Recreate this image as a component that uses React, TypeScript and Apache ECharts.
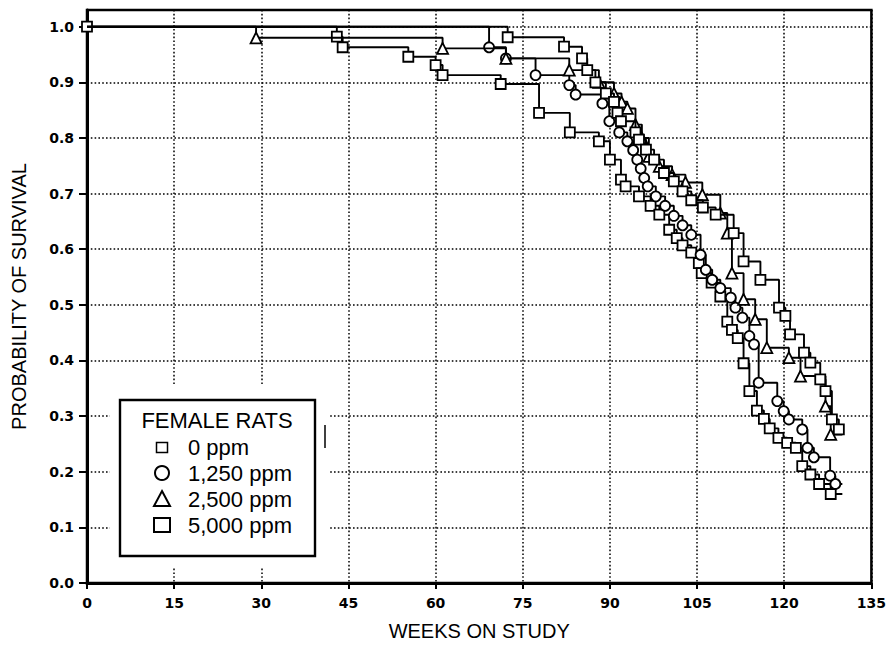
import React, { useEffect, useRef } from "react";
import * as echarts from "echarts";

// ---- data ----
const xTickValues = [0, 15, 30, 45, 60, 75, 90, 105, 120, 135];
const yTickValues = [0, 0.1, 0.2, 0.3, 0.4, 0.5, 0.6, 0.7, 0.8, 0.9, 1.0];
const groupNames = ["0 ppm", "1,250 ppm", "2,500 ppm", "5,000 ppm"];
const legendTitle = "FEMALE RATS";
const endWeek = 130;

const weeks0 = [43, 44, 55.3, 60, 61.2, 71.2, 77.8, 83.1, 88.1, 90, 91.9, 92.7, 95, 97, 98.5, 100.2, 101.5, 102.5, 104, 105.3, 105.8, 107.5, 109, 110.2, 111, 112, 113, 114, 115.3, 116.5, 117.5, 119, 120.5, 122, 123.1, 124.5, 126, 128];
const surv0 = [0.982, 0.963, 0.946, 0.931, 0.913, 0.897, 0.845, 0.81, 0.794, 0.761, 0.725, 0.713, 0.695, 0.678, 0.662, 0.635, 0.62, 0.607, 0.594, 0.575, 0.557, 0.54, 0.515, 0.47, 0.455, 0.44, 0.395, 0.345, 0.31, 0.295, 0.278, 0.261, 0.252, 0.243, 0.21, 0.195, 0.178, 0.16];

const weeks1 = [69.2, 72.1, 77.2, 83, 84.1, 88.7, 89.9, 91.6, 93, 94, 94.7, 95.3, 95.9, 96.5, 97.9, 99.5, 101, 102.5, 104, 105.6, 106.5, 107.6, 109, 110.8, 111.6, 112.8, 114, 114.8, 115.6, 118.8, 119.9, 120.8, 123.1, 124, 125.1, 127.9, 128.8];
const surv1 = [0.963, 0.943, 0.913, 0.895, 0.878, 0.862, 0.83, 0.81, 0.794, 0.778, 0.761, 0.745, 0.728, 0.713, 0.695, 0.678, 0.66, 0.643, 0.626, 0.59, 0.563, 0.545, 0.53, 0.513, 0.495, 0.477, 0.444, 0.429, 0.36, 0.327, 0.309, 0.294, 0.276, 0.243, 0.226, 0.193, 0.178];

const weeks2 = [29.1, 61.2, 72.1, 83, 88.1, 90.7, 92, 93, 94.4, 95.5, 96.7, 98.5, 100.7, 103, 105.9, 109, 110.2, 111, 113, 115, 117, 120.8, 122.8, 127.1, 128];
const surv2 = [0.98, 0.961, 0.943, 0.922, 0.9, 0.88, 0.865, 0.853, 0.824, 0.8, 0.767, 0.749, 0.734, 0.72, 0.698, 0.665, 0.629, 0.557, 0.51, 0.474, 0.423, 0.405, 0.372, 0.318, 0.267];

const weeks3 = [72.4, 82.1, 85.2, 86.1, 87.5, 89.3, 90.7, 91.3, 91.9, 94.4, 95, 96.2, 97.6, 99.3, 101, 102.5, 104, 106, 108.2, 111.3, 113, 115.9, 119.1, 120.2, 121, 123.4, 124.5, 126.2, 127.1, 128.2, 129.4];
const surv3 = [0.981, 0.964, 0.943, 0.922, 0.9, 0.88, 0.865, 0.845, 0.83, 0.81, 0.797, 0.779, 0.761, 0.737, 0.722, 0.704, 0.688, 0.675, 0.662, 0.629, 0.578, 0.545, 0.495, 0.48, 0.447, 0.414, 0.396, 0.366, 0.345, 0.294, 0.276];

const groupWeeks = [weeks0, weeks1, weeks2, weeks3];
const groupSurv = [surv0, surv1, surv2, surv3];
const groupSymbols = ["rect", "circle", "triangle", "rect"];

const AXIS_FONT = "'DejaVu Sans', sans-serif";
const TEXT_FONT = "'Liberation Sans', Arial, sans-serif";

function buildData(weeks: number[], surv: number[], startSymbol: string) {
  const d: any[] = [{ value: [0, 1], symbol: startSymbol }];
  weeks.forEach((w, i) => d.push({ value: [w, surv[i]] }));
  d.push({ value: [endWeek, surv[surv.length - 1]], symbol: "none" });
  return d;
}

export default function App() {
  const ref = useRef<HTMLDivElement>(null);
  useEffect(() => {
    const chart = echarts.init(ref.current!, null, { renderer: "svg" });
    const series = groupNames.map((name, gi) => ({
      name,
      type: "line",
      step: "end",
      data: buildData(groupWeeks[gi], groupSurv[gi], gi === 0 ? "rect" : "none"),
      symbol: groupSymbols[gi],
      symbolSize: gi === 2 ? 11 : 10,
      showAllSymbol: true,
      clip: false,
      lineStyle: { color: "#000", width: 1.9 },
      itemStyle: { color: "#fff", borderColor: "#000", borderWidth: 1.8 },
      z: 3 + gi,
    }));

    const legendRows = [447.5, 473, 499, 525];
    const legendX = 162;
    const graphic: any[] = [
      { type: "rect", shape: { x: 110, y: 385, width: 218, height: 182 }, style: { fill: "#fff" }, z: 20 },
      { type: "rect", shape: { x: 120, y: 400, width: 195, height: 156 }, style: { fill: "#fff", stroke: "#000", lineWidth: 2.4 }, z: 21 },
      { type: "text", x: 217, y: 420, z: 22, style: { text: legendTitle, font: `22px ${TEXT_FONT}`, fill: "#000", align: "center", verticalAlign: "middle" } },
      { type: "rect", shape: { x: legendX - 5.5, y: legendRows[0] - 5, width: 11, height: 10 }, style: { fill: "#fff", stroke: "#000", lineWidth: 1.5 }, z: 22 },
      { type: "circle", shape: { cx: legendX, cy: legendRows[1], r: 7 }, style: { fill: "#fff", stroke: "#000", lineWidth: 2 }, z: 22 },
      { type: "polygon", shape: { points: [[legendX, legendRows[2] - 8], [legendX + 8, legendRows[2] + 7], [legendX - 8, legendRows[2] + 7]] }, style: { fill: "#fff", stroke: "#000", lineWidth: 2 }, z: 22 },
      { type: "rect", shape: { x: legendX - 8, y: legendRows[3] - 7, width: 16, height: 14 }, style: { fill: "#fff", stroke: "#000", lineWidth: 2 }, z: 22 },
      { type: "line", shape: { x1: 325, y1: 425, x2: 325, y2: 448 }, style: { stroke: "#000", lineWidth: 1.5 }, z: 22 },
    ];
    groupNames.forEach((n, i) => {
      graphic.push({ type: "text", x: 188, y: legendRows[i], z: 22, style: { text: n, font: `22px ${TEXT_FONT}`, fill: "#000", align: "left", verticalAlign: "middle" } });
    });

    const dotted = { type: [1.6, 2.2], color: "#000", width: 1.5 };

    chart.setOption({
      animation: false,
      backgroundColor: "#fff",
      grid: { left: 87, right: 16, top: 10, bottom: 62, show: true, borderColor: "#000", borderWidth: 2.5, backgroundColor: "transparent" },
      xAxis: {
        type: "value",
        min: 0,
        max: 135,
        interval: 15,
        axisLine: { show: true, lineStyle: { color: "#000", width: 3 } },
        axisTick: { show: true, length: 6, lineStyle: { color: "#000", width: 2 }, customValues: xTickValues },
        axisLabel: { color: "#000", fontFamily: AXIS_FONT, fontWeight: "bold", fontSize: 14, margin: 13, customValues: xTickValues },
        splitLine: { show: true, lineStyle: dotted },
        name: "WEEKS ON STUDY",
        nameLocation: "middle",
        nameGap: 38,
        nameTextStyle: { color: "#000", fontFamily: TEXT_FONT, fontSize: 20 },
      },
      yAxis: {
        type: "value",
        min: 0,
        max: 1.03,
        interval: 0.1,
        axisLine: { show: true, lineStyle: { color: "#000", width: 3 } },
        axisTick: { show: true, length: 8, lineStyle: { color: "#000", width: 2 }, customValues: yTickValues },
        axisLabel: { color: "#000", fontFamily: AXIS_FONT, fontWeight: "bold", fontSize: 14, margin: 13, customValues: yTickValues, formatter: (v: number) => v.toFixed(1) },
        splitLine: { show: true, lineStyle: dotted },
        name: "PROBABILITY OF SURVIVAL",
        nameLocation: "middle",
        nameGap: 58,
        nameRotate: 90,
        nameTextStyle: { color: "#000", fontFamily: TEXT_FONT, fontSize: 20 },
      },
      series,
      graphic,
    });
    return () => chart.dispose();
  }, []);
  return <div ref={ref} style={{ position: "absolute", left: 0, top: 0, width: 889, height: 646, background: "#fff" }} />;
}
